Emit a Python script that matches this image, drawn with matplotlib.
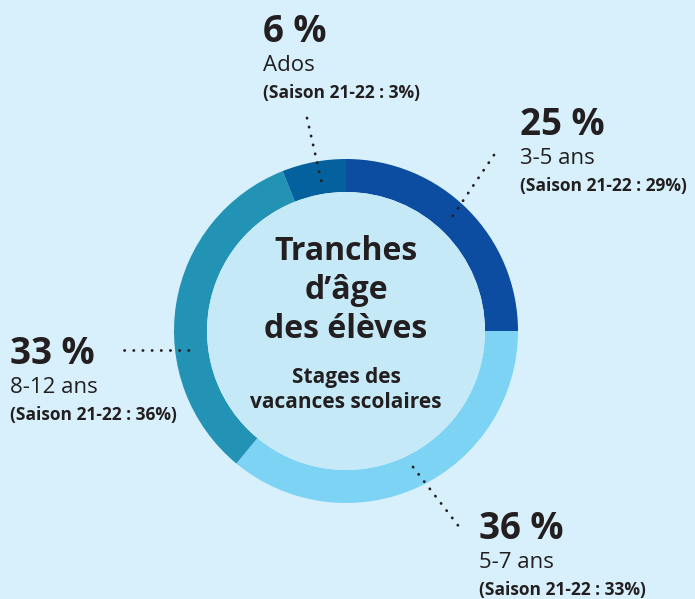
import matplotlib
matplotlib.use("Agg")
import matplotlib.pyplot as plt
from matplotlib.patches import Circle

# ---- data ----
categories = ["3-5 ans", "5-7 ans", "8-12 ans", "Ados"]
values = [25, 36, 33, 6]
previous = [29, 33, 36, 3]
colors = ["#0c4da2", "#7dd3f4", "#2393b5", "#05619e"]
title_lines = ["Tranches", "d\u2019\u00e2ge", "des \u00e9l\u00e8ves"]
subtitle_lines = ["Stages des", "vacances scolaires"]

W, H = 695, 599
BG = "#d7f0fb"
INNER = "#c6e9f8"
TXT = "#231f20"
FONT = ["Open Sans", "DejaVu Sans"]

fig = plt.figure(figsize=(W / 100, H / 100), dpi=100, facecolor=BG)
ax = fig.add_axes([0, 0, 1, 1])
ax.set_facecolor(BG)

def Y(py):
    return H - py

cx, cy = 346, Y(331)
R_out, ring_w = 172, 33

ax.pie(values, colors=colors, startangle=90, counterclock=False,
       radius=R_out, center=(cx, cy),
       wedgeprops=dict(width=ring_w, linewidth=0), frame=True)
ax.add_patch(Circle((cx, cy), R_out - ring_w, facecolor=INNER, edgecolor="none", zorder=3))
ax.set_xlim(0, W)
ax.set_ylim(0, H)
ax.set_aspect("equal")
ax.axis("off")

# center texts
for i, line in enumerate(title_lines):
    ax.text(cx, Y(260 + i * 39), line, ha="center", va="baseline",
            fontsize=23, fontweight="bold", color=TXT, family=FONT, zorder=5)
for i, line in enumerate(subtitle_lines):
    ax.text(cx, Y(383 + i * 25), line, ha="center", va="baseline",
            fontsize=15, fontweight="bold", color=TXT, family=FONT, zorder=5)

# labels: (x, baseline of big pct) in pixel coords
label_pos = {
    "3-5 ans": (520, 135),
    "5-7 ans": (479, 539),
    "8-12 ans": (10, 364),
    "Ados": (263, 42),
}
for cat, val, prev in zip(categories, values, previous):
    x, yb = label_pos[cat]
    ax.text(x, Y(yb), f"{val} %", ha="left", va="baseline", fontsize=26.5,
            fontweight="bold", color=TXT, family=FONT, zorder=5)
    ax.text(x, Y(yb + 29), cat, ha="left", va="baseline", fontsize=16,
            color=TXT, family=FONT, zorder=5)
    ax.text(x, Y(yb + 56), f"(Saison 21-22 : {prev}%)", ha="left", va="baseline",
            fontsize=12.5, fontweight="bold", color=TXT, family=FONT, zorder=5)

# dotted leaders
leaders = [
    ((494, 155), (452, 217)),
    ((413, 467), (460, 528)),
    ((124, 350), (196, 350)),
    ((307, 118), (322, 184)),
]
for (x0, y0), (x1, y1) in leaders:
    ax.plot([x0, x1], [Y(y0), Y(y1)], color=TXT, linewidth=2,
            linestyle=(0, (0.1, 3.2)), dash_capstyle="round", zorder=6)

fig.savefig("out.png", dpi=100, facecolor=BG)
